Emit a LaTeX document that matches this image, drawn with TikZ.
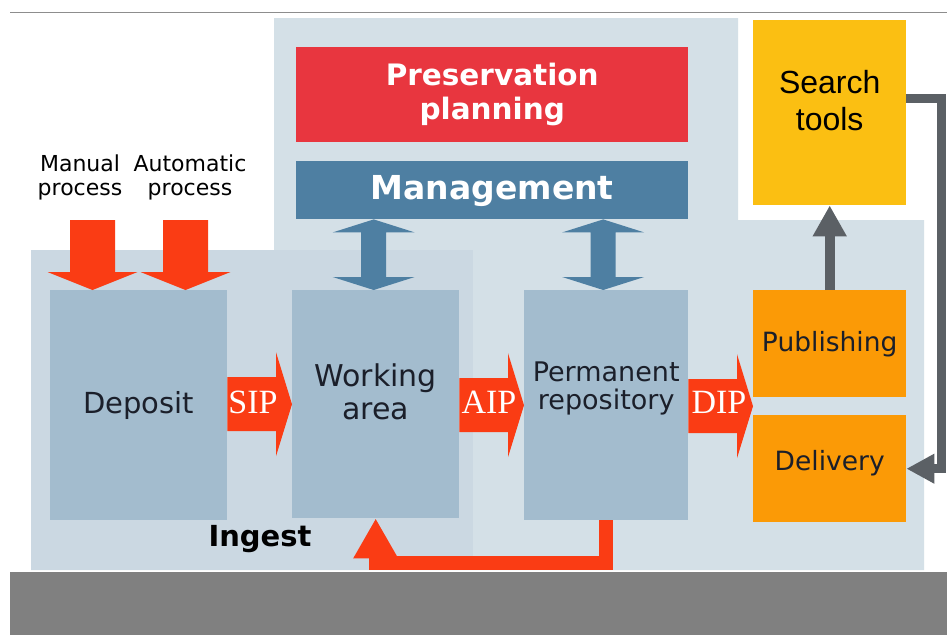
\documentclass[tikz,border=0pt]{standalone}
\usepackage{fontspec}
\setmainfont{DejaVu Sans}
\newfontfamily\arialfont{Liberation Sans}
\newfontfamily\timesfont{Liberation Serif}
\usetikzlibrary{calc,arrows.meta}

\definecolor{bglight}{HTML}{D4E0E7}
\definecolor{ingestbg}{HTML}{CBD8E2}
\definecolor{boxblue}{HTML}{A3BCCE}
\definecolor{planred}{HTML}{E8363F}
\definecolor{mgmtblue}{HTML}{4E7FA2}
\definecolor{flowred}{HTML}{FA3C14}
\definecolor{searchyellow}{HTML}{FBBF12}
\definecolor{outorange}{HTML}{FB9A06}
\definecolor{conngray}{HTML}{5B6065}
\definecolor{bandgray}{HTML}{808080}
\definecolor{inkdark}{HTML}{1B1F2A}

% fat red arrow pointing right, from #1 to the tip #2
\newcommand{\rightfat}[2]{\fill[flowred] let \p1=(#1), \p2=(#2) in
  (\x1,\y2+27pt) -- (\x2-16pt,\y2+27pt) -- (\x2-16pt,\y2+52pt) -- (\x2,\y2)
  -- (\x2-16pt,\y2-52pt) -- (\x2-16pt,\y2-27pt) -- (\x1,\y2-27pt) -- cycle;}
% fat red arrow pointing down, from the height of #1 to the tip #2
\newcommand{\downfat}[2]{\fill[flowred] let \p1=(#1), \p2=(#2) in
  (\x2-22.5pt,\y1) -- (\x2+22.5pt,\y1) -- (\x2+22.5pt,\y2+18pt) -- (\x2+45pt,\y2+18pt)
  -- (\x2,\y2) -- (\x2-45pt,\y2+18pt) -- (\x2-22.5pt,\y2+18pt) -- cycle;}
% fat double arrow between the upper tip #1 and the lower tip #2
\newcommand{\bothfat}[2]{\fill[mgmtblue] let \p1=(#1), \p2=(#2) in
  (\x1,\y1) -- (\x1+41pt,\y1-13pt) -- (\x1+12.5pt,\y1-13pt) -- (\x1+12.5pt,\y2+13pt)
  -- (\x1+41pt,\y2+13pt) -- (\x1,\y2) -- (\x1-41pt,\y2+13pt) -- (\x1-12.5pt,\y2+13pt)
  -- (\x1-12.5pt,\y1-13pt) -- (\x1-41pt,\y1-13pt) -- cycle;}

\begin{document}
\begin{tikzpicture}[x=1pt,y=-1pt,
  box/.style={fill=boxblue, inner sep=0pt, anchor=north west},
  boxtext/.style={text=inkdark, align=center, inner sep=0pt},
  packet/.style={text=white, font=\timesfont\fontsize{34}{34}\selectfont, inner sep=0pt, anchor=base},
  grayline/.style={draw=conngray, line width=10pt}
]
\useasboundingbox (0,0) rectangle (947,635);
\fill[white] (0,0) rectangle (947,635);

% frame line and footer band
\draw[bandgray!90, line width=1pt] (10,12) -- (947,12);
\fill[bandgray] (10,572) rectangle (947,635);

% light background areas
\fill[bglight] (31,250) -- (274,250) -- (274,18) -- (738,18) -- (738,220)
  -- (924,220) -- (924,570) -- (31,570) -- cycle;
\node[fill=ingestbg, inner sep=0pt, anchor=north west, minimum width=442pt, minimum height=320pt] (ingest) at (31,250) {};
\node[anchor=base, inner sep=0pt, text=black, font=\bfseries\fontsize{29}{29}\selectfont] (ingestlabel) at (260,546) {Ingest};

% main boxes
\node[box, minimum width=177pt, minimum height=230pt] (deposit) at (50,290) {};
\node[box, minimum width=167pt, minimum height=228pt] (working) at (292,290) {};
\node[box, minimum width=164pt, minimum height=230pt] (permanent) at (524,290) {};
\node[box, fill=planred, minimum width=392pt, minimum height=95pt] (planning) at (296,47) {};
\node[box, fill=mgmtblue, minimum width=392pt, minimum height=58pt] (management) at (296,161) {};
\node[box, fill=searchyellow, minimum width=153pt, minimum height=185pt] (search) at (753,20) {};
\node[box, fill=outorange, minimum width=153pt, minimum height=107pt] (publishing) at (753,290) {};
\node[box, fill=outorange, minimum width=153pt, minimum height=107pt] (delivery) at (753,415) {};

% box texts
\node[boxtext, font=\fontsize{29}{34}\selectfont] (deposittext) at (deposit.center) {Deposit};
\node[boxtext, font=\fontsize{30}{33}\selectfont] (workingtext) at ($(working.center)+(0,-12)$) {Working\\area};
\node[boxtext, font=\fontsize{27}{28}\selectfont] (permanenttext) at ($(permanent.center)+(0,-17)$) {Permanent\\repository};
\node[boxtext, text=white, font=\bfseries\fontsize{29.5}{34}\selectfont] (planningtext) at (planning.center) {Preservation\\planning};
\node[boxtext, text=white, font=\bfseries\fontsize{33}{33}\selectfont] (managementtext) at ($(management.center)+(0,1)$) {Management};
\node[boxtext, text=black, font=\arialfont\fontsize{32}{37}\selectfont] (searchtext) at ($(search.center)+(0,-12)$) {Search\\tools};
\node[boxtext, text=inkdark, font=\fontsize{26.5}{30}\selectfont] (publishingtext) at (publishing.center) {Publishing};
\node[boxtext, text=inkdark, font=\fontsize{26.5}{30}\selectfont] (deliverytext) at ($(delivery.center)+(0,-6)$) {Delivery};

% inputs
\node[boxtext, text=black, font=\fontsize{22}{24}\selectfont] (manual) at (80,177) {Manual\\process};
\node[boxtext, text=black, font=\fontsize{22}{24}\selectfont] (automatic) at (190,177) {Automatic\\process};
\coordinate (inputtop) at (0,220);
\coordinate (manualtip) at ($(deposit.north west)+(42.5,0)$);
\coordinate (autotip) at ($(deposit.north west)+(135.5,0)$);
\downfat{inputtop}{manualtip}
\downfat{inputtop}{autotip}

% package flow
\coordinate (diptip) at ($(publishing.south west)!0.5!(delivery.north west)$);
\rightfat{deposit.east}{working.west}
\rightfat{working.east}{permanent.west}
\rightfat{permanent.east}{diptip}
\node[packet] (sip) at (253,413) {SIP};
\node[packet] (aip) at (489,413) {AIP};
\node[packet] (dip) at (719,413) {DIP};

% management links
\coordinate (wtop) at ($(working.north)+(-2,0)$);
\coordinate (ptop) at ($(permanent.north)+(-3,0)$);
\bothfat{wtop |- management.south}{wtop}
\bothfat{ptop |- management.south}{ptop}

% return path from the repository to the working area
\draw[flowred, line width=14pt, -{Triangle[length=40pt,width=42pt]}]
  (permanent.south) -- ++(0,43) -| (working.south);

% search tools links
\draw[grayline, -{Triangle[length=31pt,width=32pt]}] (publishing.north) -- (search.south);
\coordinate (searchout) at ($(search.north east)+(0,78)$);
\coordinate (railtop) at (941,98);
\draw[grayline, line width=9pt, -{Triangle[length=28pt,width=28pt]}]
  (searchout) -- (railtop) |- (delivery.east);
\end{tikzpicture}
\end{document}
